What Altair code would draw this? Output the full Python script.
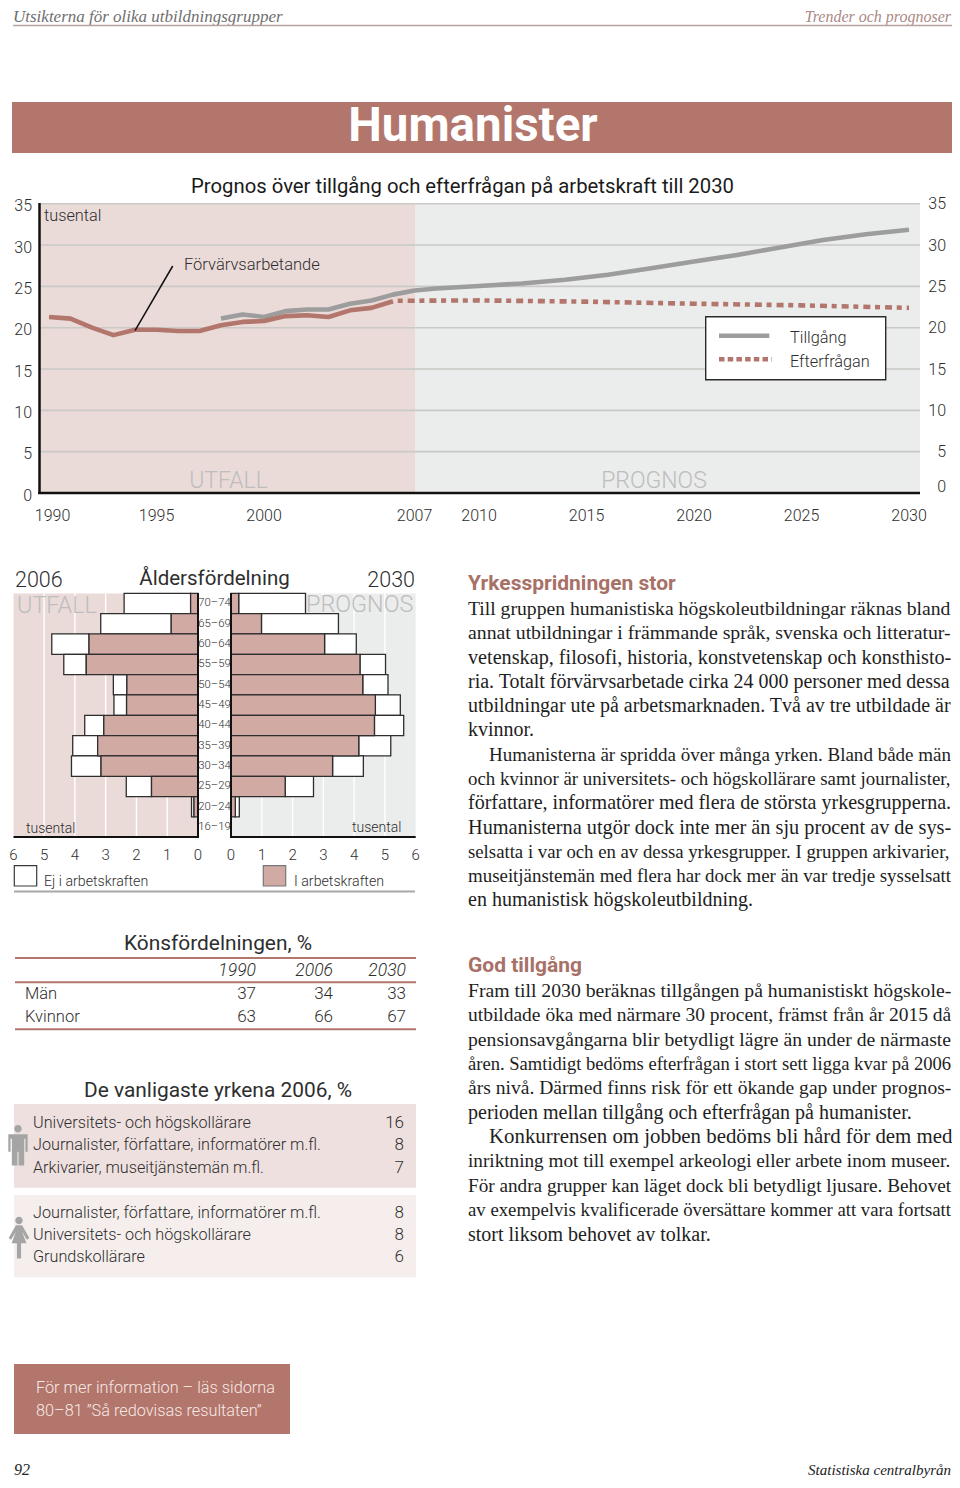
import altair as alt
import pandas as pd

SANS = "Roboto"
SERIF = "Liberation Serif"
INK = "#2e2e2e"
ROSE = "#b3766c"
GHOST = "#bdbdbd"
LIGHT = 300

# ---------- data ----------
YEARS_OUT = list(range(1990, 2007))
EMPLOYED = [21.3, 21.1, 20.0, 19.1, 19.75, 19.75, 19.6, 19.6, 20.3, 20.7, 20.8, 21.4, 21.5, 21.3, 22.1, 22.4, 23.2]
YEARS_SUPPLY = [1998, 1999, 2000, 2001, 2002, 2003, 2004, 2005, 2006, 2007, 2008, 2009, 2010, 2012, 2014, 2016,
                2018, 2020, 2022, 2024, 2026, 2028, 2030]
SUPPLY = [21.1, 21.6, 21.3, 22.0, 22.2, 22.2, 22.9, 23.3, 24.0, 24.5, 24.75, 24.9, 25.05, 25.35, 25.8, 26.4,
          27.2, 28.0, 28.8, 29.7, 30.6, 31.3, 31.85]
YEARS_DEMAND = [2006, 2010, 2015, 2020, 2025, 2030]
DEMAND = [23.25, 23.3, 23.15, 22.9, 22.7, 22.4]
GRID = [5, 10, 15, 20, 25, 30, 35]
Y_TICKS = [0, 5, 10, 15, 20, 25, 30, 35]
X_TICKS = [1995, 2000, 2007, 2010, 2015, 2020, 2025, 2030]

AGES = ["70–74", "65–69", "60–64", "55–59", "50–54", "45–49", "40–44", "35–39", "30–34", "25–29", "20–24", "16–19"]
IN_2006 = [0.24, 0.87, 3.54, 3.63, 2.31, 2.32, 3.06, 3.26, 3.15, 1.51, 0.13, 0.0]
OUT_2006 = [2.16, 2.29, 1.21, 0.73, 0.44, 0.41, 0.62, 0.81, 0.96, 0.82, 0.08, 0.0]
IN_2030 = [0.25, 0.99, 3.04, 4.19, 4.28, 4.69, 4.66, 4.15, 3.30, 1.76, 0.14, 0.0]
OUT_2030 = [2.17, 2.50, 1.03, 0.83, 0.82, 0.81, 0.95, 1.04, 1.00, 0.92, 0.13, 0.0]
PYR_TICKS = [0, 1, 2, 3, 4, 5, 6]

TABLE_YEARS = ["1990", "2006", "2030"]
TABLE_ROWS = [("Män", "37", "34", "33"), ("Kvinnor", "63", "66", "67")]
JOBS_MEN = [("Universitets- och högskollärare", "16"), ("Journalister, författare, informatörer m.fl.", "8"),
            ("Arkivarier, museitjänstemän m.fl.", "7")]
JOBS_WOMEN = [("Journalister, författare, informatörer m.fl.", "8"), ("Universitets- och högskollärare", "8"),
              ("Grundskollärare", "6")]

BODY_1 = [
    ("Till gruppen humanistiska högskoleutbildningar räknas bland", 0, 1),
    ("annat utbildningar i främmande språk, svenska och litteratur-", 0, 1),
    ("vetenskap, filosofi, historia, konstvetenskap och konsthisto-", 0, 1),
    ("ria. Totalt förvärvsarbetade cirka 24 000 personer med dessa", 0, 1),
    ("utbildningar ute på arbetsmarknaden. Två av tre utbildade är", 0, 1),
    ("kvinnor.", 0, 0),
    ("Humanisterna är spridda över många yrken. Bland både män", 1, 1),
    ("och kvinnor är universitets- och högskollärare samt journalister,", 0, 1),
    ("författare, informatörer med flera de största yrkesgrupperna.", 0, 1),
    ("Humanisterna utgör dock inte mer än sju procent av de sys-", 0, 1),
    ("selsatta i var och en av dessa yrkesgrupper. I gruppen arkivarier,", 0, 1),
    ("museitjänstemän med flera har dock mer än var tredje sysselsatt", 0, 1),
    ("en humanistisk högskoleutbildning.", 0, 0),
]
BODY_2 = [
    ("Fram till 2030 beräknas tillgången på humanistiskt högskole-", 0, 1),
    ("utbildade öka med närmare 30 procent, främst från år 2015 då", 0, 1),
    ("pensionsavgångarna blir betydligt lägre än under de närmaste", 0, 1),
    ("åren. Samtidigt bedöms efterfrågan i stort sett ligga kvar på 2006", 0, 1),
    ("års nivå. Därmed finns risk för ett ökande gap under prognos-", 0, 1),
    ("perioden mellan tillgång och efterfrågan på humanister.", 0, 0),
    ("Konkurrensen om jobben bedöms bli hård för dem med", 1, 1),
    ("inriktning mot till exempel arkeologi eller arbete inom museer.", 0, 1),
    ("För andra grupper kan läget dock bli betydligt ljusare. Behovet", 0, 1),
    ("av exempelvis kvalificerade översättare kommer att vara fortsatt", 0, 1),
    ("stort liksom behovet av tolkar.", 0, 0),
]

MAN = ("M-0.18 -0.79 A0.18 0.18 0 1 0 0.18 -0.79 A0.18 0.18 0 1 0 -0.18 -0.79 Z "
       "M-0.47 -0.52 H0.47 V0.33 H0.36 V-0.3 H0.3 V1 H0.03 V0.33 H-0.03 V1 H-0.3 V-0.3 H-0.36 V0.33 H-0.47 Z")
WOMAN = ("M-0.18 -0.85 A0.18 0.18 0 1 0 0.18 -0.85 A0.18 0.18 0 1 0 -0.18 -0.85 Z "
         "M-0.15 -0.62 H0.15 L0.5 0 L0.38 0.08 L0.15 -0.3 L0.36 0.25 H0.1 V1 H-0.1 V0.25 H-0.36 "
         "L-0.15 -0.3 L-0.38 0.08 L-0.5 0 Z")

# ---------- helpers ----------
layers = []


def T(rows, size, color=INK, font=SANS, align="left", **kw):
    df = pd.DataFrame(rows, columns=["t", "x", "y"])
    df["x"] -= 8
    df["y"] -= 8
    if font == SANS and "fontWeight" not in kw:
        kw["fontWeight"] = LIGHT
    layers.append(
        alt.Chart(df).mark_text(fontSize=size, color=color, font=font, align=align, baseline="middle", **kw).encode(
            x=alt.X("x:Q", scale=None, axis=None), y=alt.Y("y:Q", scale=None, axis=None), text="t:N"))


def R(x0, y0, x1, y1, fill, stroke=None, sw=0):
    kw = dict(fill=fill)
    if stroke:
        kw.update(stroke=stroke, strokeWidth=sw)
    layers.append(alt.Chart(pd.DataFrame({"a": [0]})).mark_rect(**kw).encode(
        x=alt.value(x0 - 8), x2=alt.value(x1 - 8), y=alt.value(y0 - 8), y2=alt.value(y1 - 8)))


def L(x0, y0, x1, y1, color, sw):
    layers.append(alt.Chart(pd.DataFrame({"a": [0]})).mark_rule(color=color, strokeWidth=sw).encode(
        x=alt.value(x0 - 8), x2=alt.value(x1 - 8), y=alt.value(y0 - 8), y2=alt.value(y1 - 8)))


TIMES = dict(zip("abcdefghijklmnopqrstuvwxyz",
                 [444, 500, 444, 500, 444, 333, 500, 500, 278, 278, 500, 278, 778, 500, 500, 500, 500, 333, 389, 278,
                  500, 500, 722, 500, 500, 444]))
TIMES.update({"ä": 444, "å": 444, "ö": 500, " ": 250, ".": 250, ",": 250, "-": 333, "T": 611, "H": 722, "F": 556,
              "I": 333, "B": 667, "K": 667, "D": 722, "S": 556})


def em(s):
    return sum(TIMES.get(c, 500) for c in s) / 1000


def body(lines, y0, step, base=20, left=468, right=951.5, indent=21):
    rows = []
    for i, (s, ind, just) in enumerate(lines):
        x = left + ind * indent
        size = (right - x) / em(s) if just else base
        rows.append(dict(t=s, x=x - 8, y=y0 + i * step - 8, s=size))
    layers.append(alt.Chart(pd.DataFrame(rows)).mark_text(font=SERIF, color="#1e1e1e", align="left", baseline="middle").encode(
        x=alt.X("x:Q", scale=None, axis=None), y=alt.Y("y:Q", scale=None, axis=None),
        size=alt.Size("s:Q", scale=None, legend=None), text="t:N"))


def tick_text(df, size, **enc):
    layers.append(alt.Chart(df).mark_text(
        fontSize=size, color=INK, font=SANS, fontWeight=LIGHT, align="center", baseline="middle").encode(**enc))


# ---------- page head ----------
T([("Utsikterna för olika utbildningsgrupper", 13, 17)], 17, "#6f6f6f", SERIF, fontStyle="italic")
T([("Trender och prognoser", 951, 17)], 16, "#ab8a85", SERIF, "right", fontStyle="italic")
L(13, 25.5, 952, 25.5, "#b9a29e", 1.5)
R(12, 102, 952, 153, ROSE)
T([("Humanister", 473, 127)], 47.5, "white", SANS, "center", fontWeight="bold")
T([("Prognos över tillgång och efterfrågan på arbetskraft till 2030", 462.5, 186.5)], 20.3, "#1a1a1a", SANS, "center", fontWeight=400)

# ---------- line chart ----------
R(39, 204, 415, 493, "#eadbd9")
R(415, 204, 920, 493, "#ebecec")

X = alt.X("year:Q", scale=alt.Scale(domain=[1990, 2030], range=[41, 901]), axis=None)
Y = alt.Y("v:Q", scale=alt.Scale(domain=[0, 35], range=[485, 195.7]), axis=None)

layers.append(alt.Chart(pd.DataFrame({"v": GRID})).mark_rule(color="#c9c9c5", strokeWidth=1.6).encode(
    y=Y, x=alt.value(31), x2=alt.value(912)))
L(39.5, 203, 39.5, 494, "#111111", 2.5)
L(38, 493, 920, 493, "#111111", 2.5)

layers.append(alt.Chart(pd.DataFrame({"year": YEARS_SUPPLY, "v": SUPPLY})).mark_line(
    color="#9d9d9d", strokeWidth=4.6, strokeJoin="round").encode(x=X, y=Y))
layers.append(alt.Chart(pd.DataFrame({"year": YEARS_OUT, "v": EMPLOYED})).mark_line(
    color=ROSE, strokeWidth=4.6, strokeJoin="round").encode(x=X, y=Y))
layers.append(alt.Chart(pd.DataFrame({"year": YEARS_DEMAND, "v": DEMAND})).mark_line(
    color=ROSE, strokeWidth=4.6, strokeDash=[5, 5, 7, 4.7], strokeDashOffset=17).encode(x=X, y=Y))

LY = alt.Y("v:Q", scale=alt.Scale(domain=[0, 35], range=[487.5, 198.2]), axis=None)
layers.append(alt.Chart(pd.DataFrame({"v": Y_TICKS})).mark_text(
    fontSize=16, color=INK, font=SANS, fontWeight=LIGHT, align="right", baseline="middle").encode(
    y=LY, x=alt.value(24), text=alt.Text("v:Q")))
RY = alt.Y("v:Q", scale=alt.Scale(domain=[0, 35], range=[485.5, 196.2]), axis=None)
layers.append(alt.Chart(pd.DataFrame({"v": Y_TICKS[1:]})).mark_text(
    fontSize=16, color=INK, font=SANS, fontWeight=LIGHT, align="right", baseline="middle").encode(
    y=RY, x=alt.value(938), text=alt.Text("v:Q")))
T([("0", 946, 487)], 16, INK, SANS, "right")

tick_text(pd.DataFrame({"year": X_TICKS}), 16, x=X, y=alt.value(508), text=alt.Text("year:Q", format="d"))
T([("1990", 52.5, 516)], 16, INK, SANS, "center")

T([("tusental", 44, 215.5)], 16.3)
T([("Förvärvsarbetande", 184, 264.5)], 16.5)
L(172.7, 266, 135, 330.7, "#111111", 1.5)
T([("UTFALL", 228.5, 480.5), ("PROGNOS", 654, 480.5)], 23, GHOST, SANS, "center")

R(705.7, 316.7, 885.7, 379.7, "white", "#2a2a2a", 1.4)
L(719, 335.7, 769.3, 335.7, "#9d9d9d", 4.6)
layers.append(alt.Chart(pd.DataFrame({"a": [0]})).mark_rule(color=ROSE, strokeWidth=4.6, strokeDash=[5.5, 3.2]).encode(
    x=alt.value(711), x2=alt.value(763.7), y=alt.value(351.3)))
T([("Tillgång", 790, 337.5), ("Efterfrågan", 790, 361.5)], 16.3)

# ---------- pyramid ----------
R(13.5, 593.5, 198, 837, "#eadbd9")
R(231, 593.5, 415.7, 837, "#ebecec")

XL = alt.X("a:Q", scale=alt.Scale(domain=[0, 6], range=[190, 5.3]), axis=None)
XR = alt.X("a:Q", scale=alt.Scale(domain=[0, 6], range=[223, 407.7]), axis=None)
AGE = alt.Y("age:N", sort=AGES, scale=alt.Scale(domain=AGES, range=[585.3, 829.3], paddingInner=0, paddingOuter=0),
            axis=None)

for sx in (XL, XR):
    layers.append(alt.Chart(pd.DataFrame({"a": PYR_TICKS[1:-1]})).mark_rule(color="white", strokeWidth=1.4).encode(
        x=sx, y=alt.value(585.5), y2=alt.value(829)))

T([("UTFALL", 17, 605.5), ("PROGNOS", 306, 604.5)], 23.4, GHOST)


def bars(ins, outs, sx):
    df = pd.DataFrame({"age": AGES, "a": ins, "b": outs})
    df["tot"] = df["a"] + df["b"]
    base = alt.Chart(df)
    layers.append(base.mark_bar(fill="white", stroke="#2e2e2e", strokeWidth=1.3).encode(
        x=sx, x2=alt.X2("tot:Q"), y=AGE))
    zero = df.assign(z=0.0)
    layers.append(alt.Chart(zero).mark_bar(fill="#d0aaa3", stroke="#2e2e2e", strokeWidth=1.3).encode(
        x=sx, x2=alt.X2("z:Q"), y=AGE))


bars(IN_2006, OUT_2006, XL)
bars(IN_2030, OUT_2030, XR)

L(198, 593, 198, 838, "#111111", 2)
L(231, 593, 231, 838, "#111111", 2)
L(13.5, 837, 198, 837, "#111111", 2)
L(231, 837, 415.7, 837, "#111111", 2)

tick_text(pd.DataFrame({"age": AGES}), 11.3, y=AGE, x=alt.value(206.5), text="age:N")

for sx in (XL, XR):
    tick_text(pd.DataFrame({"a": PYR_TICKS}), 15, x=sx, y=alt.value(846.5), text=alt.Text("a:Q"))

T([("2006", 15, 581)], 21.5)
T([("2030", 415, 581)], 21.5, INK, SANS, "right")
T([("Åldersfördelning", 214.5, 579)], 20.5, INK, SANS, "center", fontWeight=400)
T([("tusental", 26, 828.5), ("tusental", 352, 827.5)], 14)
R(14.3, 865.7, 36.7, 886, "white", "#3a3a3a", 1.2)
R(263.3, 865.7, 285.7, 886, "#d0aaa3", "#777777", 1.2)
T([("Ej i arbetskraften", 44, 881.5), ("I arbetskraften", 294, 881.5)], 14.2)
L(14, 891.5, 415, 891.5, "#a8a8a8", 2)

# ---------- gender table ----------
T([("Könsfördelningen, %", 218, 943.5)], 20.9, INK, SANS, "center", fontWeight=400)
for yy in (958, 982.3, 1029.3):
    L(15, yy, 416, yy, ROSE, 2)
COLS = [256, 333, 406]
T([(y, c, 971) for y, c in zip(TABLE_YEARS, COLS)], 17.5, INK, SANS, "right", fontStyle="italic")
for (name, *vals), yy in zip(TABLE_ROWS, (994, 1016.5)):
    T([(name, 25, yy)], 16.5)
    T([(v, c, yy) for v, c in zip(vals, COLS)], 17, INK, SANS, "right")

# ---------- occupations ----------
T([("De vanligaste yrkena 2006, %", 218, 1090.5)], 20.9, INK, SANS, "center", fontWeight=400)
R(14, 1104, 416, 1187.7, "#eee0df")
R(14, 1195, 416, 1277.3, "#f5eeec")
for jobs, y0 in ((JOBS_MEN, 1123), (JOBS_WOMEN, 1212.5)):
    T([(j[0], 33, y0 + i * 22.4) for i, j in enumerate(jobs)], 16.2)
    T([(j[1], 404, y0 + i * 22.4) for i, j in enumerate(jobs)], 17, INK, SANS, "right")
for path, cx, cy in ((MAN, 18, 1145), (WOMAN, 19, 1238)):
    layers.append(alt.Chart(pd.DataFrame({"a": [0]})).mark_point(
        shape=path, size=1700, filled=True, fill="#a5a5a5", opacity=1, strokeWidth=0).encode(
        x=alt.value(cx - 8), y=alt.value(cy - 8)))

# ---------- article text ----------
T([("Yrkesspridningen stor", 468, 584)], 21, "#a87168", SANS, fontWeight="bold")
body(BODY_1, 609, 24.28)
T([("God tillgång", 468, 966)], 21, "#a87168", SANS, fontWeight="bold")
body(BODY_2, 991, 24.35)

# ---------- footer ----------
R(14, 1364, 290, 1434, ROSE)
T([("För mer information – läs sidorna", 36, 1387.5), ("80–81  ”Så redovisas resultaten”", 36, 1410.5)], 16.3, "#f6e9e6")
T([("92", 14, 1470)], 16, "#222222", SERIF, fontStyle="italic")
T([("Statistiska centralbyrån", 951, 1470)], 15, "#222222", SERIF, "right", fontStyle="italic")

chart = alt.layer(*layers).resolve_scale(x="independent", y="independent", size="independent").properties(
    width=944, height=1472, padding=0, autosize=alt.AutoSizeParams(type="none"), background="white"
).configure_view(stroke=None)

chart.save("out.html", embed_options={"renderer": "svg", "actions": False})
